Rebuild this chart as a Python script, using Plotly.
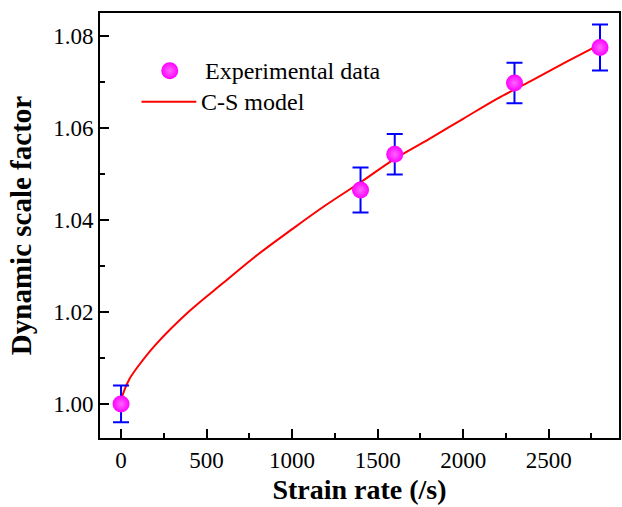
import plotly.graph_objects as go

# Experimental data
exp_x = [0, 1400, 1600, 2300, 2800]
exp_y = [1.0000, 1.0465, 1.0543, 1.0698, 1.0775]
exp_err = [0.0040, 0.0049, 0.0044, 0.0044, 0.0050]

# C-S model curve
cs_x = [0, 5, 10, 25, 50, 100, 200, 400, 600, 800, 1000, 1200, 1400, 1600, 1800, 2000,
        2200, 2400, 2600, 2800]
cs_y = [1.0000, 1.0013, 1.0020, 1.0035, 1.0055, 1.0082, 1.0128, 1.0202, 1.0264, 1.0325,
        1.0380, 1.0433, 1.0482, 1.0533, 1.0576, 1.0620, 1.0664, 1.0703, 1.0743, 1.0782]

x_ticks = [0, 500, 1000, 1500, 2000, 2500]
y_ticks = [1.00, 1.02, 1.04, 1.06, 1.08]
y_tick_text = ["1.00", "1.02", "1.04", "1.06", "1.08"]

legend_labels = ["Experimental data", "C-S model"]

FONT = "Times New Roman, Liberation Serif, Times, serif"
MAGENTA = "#ff00ff"
BLUE = "#0000ff"
RED = "#ff0000"

fig = go.Figure()

fig.add_trace(go.Scatter(
    x=cs_x, y=cs_y, mode="lines", line=dict(color=RED, width=2, shape="spline"),
    showlegend=False, hoverinfo="skip"))

marker_style = dict(size=17, color=MAGENTA, gradient=dict(type="radial", color="#ff66ff"),
                    line=dict(width=0))

fig.add_trace(go.Scatter(
    x=exp_x, y=exp_y, mode="markers", marker=marker_style,
    error_y=dict(type="data", array=exp_err, visible=True, color=BLUE, thickness=2, width=8),
    showlegend=False))

# Manual legend (overlay axes spanning the plot area)
fig.add_trace(go.Scatter(
    x=[0.1344], y=[0.8642], mode="markers", xaxis="x2", yaxis="y2",
    marker=marker_style, showlegend=False, hoverinfo="skip"))
fig.add_shape(type="line", xref="paper", yref="paper", x0=0.080, x1=0.1856, y0=0.7913, y1=0.7913,
              line=dict(color=RED, width=2))
fig.add_annotation(x=0.1985, y=0.8642, xref="paper", yref="paper", text=legend_labels[0],
                   showarrow=False, xanchor="left", yanchor="middle",
                   font=dict(family=FONT, size=24, color="black"))
fig.add_annotation(x=0.1905, y=0.7913, xref="paper", yref="paper", text=legend_labels[1],
                   showarrow=False, xanchor="left", yanchor="middle",
                   font=dict(family=FONT, size=24, color="black"))

axis_common = dict(showline=True, linecolor="black", linewidth=2, mirror=True,
                   ticks="inside", ticklen=9, tickwidth=2, tickcolor="black",
                   showgrid=False, zeroline=False,
                   tickfont=dict(family=FONT, size=23, color="black"))

fig.update_layout(
    width=622, height=507,
    margin=dict(l=100, r=1, t=13, b=69),
    paper_bgcolor="white", plot_bgcolor="white",
    font=dict(family=FONT, color="black"),
    xaxis=dict(range=[-123, 2911], tickvals=x_ticks,
               minor=dict(dtick=250, ticks="inside", ticklen=5, tickwidth=2, tickcolor="black"),
               title=dict(text="<b>Strain rate (/s)</b>", standoff=8,
                          font=dict(family=FONT, size=28, color="black")),
               **axis_common),
    yaxis=dict(range=[0.9926, 1.085], tickvals=y_ticks, ticktext=y_tick_text,
               minor=dict(dtick=0.01, tick0=1.0, ticks="inside", ticklen=5, tickwidth=2, tickcolor="black"),
               title=dict(text="<b>Dynamic scale factor</b>", standoff=13,
                          font=dict(family=FONT, size=29, color="black")),
               **axis_common),
    xaxis2=dict(range=[0, 1], overlaying="x", visible=False, fixedrange=True),
    yaxis2=dict(range=[0, 1], overlaying="y", visible=False, fixedrange=True),
    showlegend=False,
)

fig.write_html("out.html")
